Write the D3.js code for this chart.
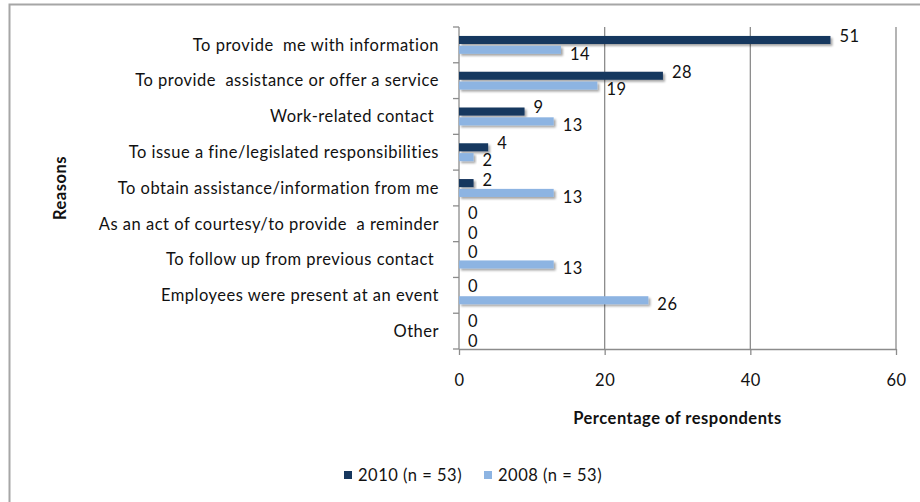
<!DOCTYPE html>
<html>
<head>
<meta charset="utf-8">
<script src="https://cdn.jsdelivr.net/npm/d3@7"></script>
<style>
  html, body { margin: 0; padding: 0; background: #fff; }
  svg { display: block; }
  text { font-family: Lato, "Open Sans", sans-serif; fill: #111; letter-spacing: 0.5px; }
</style>
</head>
<body>
<svg id="chart" width="920" height="502"></svg>
<script>
// Reasons for contact, share of respondents (%)
const categories = [
  "To provide  me with information",
  "To provide  assistance or offer a service",
  "Work-related contact ",
  "To issue a fine/legislated responsibilities",
  "To obtain assistance/information from me",
  "As an act of courtesy/to provide  a reminder",
  "To follow up from previous contact ",
  "Employees were present at an event",
  "Other"
];
const series = ["2010 (n = 53)", "2008 (n = 53)"];
const values2010 = [51, 28, 9, 4, 2, 0, 0, 0, 0];
const values2008 = [14, 19, 13, 2, 13, 0, 13, 26, 0];
const xTicks = [0, 20, 40, 60];
const colors = ["#17375E", "#8DB4E2"];

const svg = d3.select("#chart");
const plot = { left: 459, right: 896, top: 27, bottom: 349 };
const fs = 16.5;

// outer chart frame
svg.append("rect")
  .attr("x", 9.5).attr("y", 4.5)
  .attr("width", 1000).attr("height", 600)
  .attr("fill", "#fff").attr("stroke", "#A6A6A6").attr("stroke-width", 2);

const defs = svg.append("defs");
const f = defs.append("filter").attr("id", "shadow")
  .attr("x", "-10%").attr("y", "-50%").attr("width", "130%").attr("height", "220%");
f.append("feDropShadow")
  .attr("dx", 2).attr("dy", 2).attr("stdDeviation", 1.3)
  .attr("flood-color", "#000").attr("flood-opacity", 0.35);

const x = d3.scaleLinear().domain([0, 60]).range([plot.left, plot.right]);
const y0 = d3.scaleBand().domain(categories)
  .range([plot.top, plot.bottom]).paddingInner(0.5).paddingOuter(0.25);
const y1 = d3.scaleBand().domain(series)
  .range([0, y0.bandwidth()]).paddingInner(0.18);

// vertical gridlines
svg.append("g").selectAll("line")
  .data(xTicks.filter(d => d > 0))
  .join("line")
  .attr("x1", d => x(d)).attr("x2", d => x(d))
  .attr("y1", plot.top).attr("y2", plot.bottom)
  .attr("stroke", "#8C8C8C").attr("stroke-width", 1.3);

// x axis
const xAxis = svg.append("g")
  .attr("transform", `translate(0,${plot.bottom})`)
  .call(d3.axisBottom(x).tickValues(xTicks).tickSize(6).tickPadding(19).tickSizeOuter(0));
xAxis.select(".domain").attr("stroke", "#8C8C8C").attr("stroke-width", 1.3);
xAxis.selectAll(".tick line").attr("stroke", "#8C8C8C").attr("stroke-width", 1.3);
xAxis.selectAll(".tick text").attr("font-size", fs).attr("fill", "#111")
  .attr("font-family", "Lato, sans-serif");

// y axis: category boundaries as ticks
const yAxisG = svg.append("g");
yAxisG.append("line")
  .attr("x1", plot.left).attr("x2", plot.left)
  .attr("y1", plot.top).attr("y2", plot.bottom)
  .attr("stroke", "#8C8C8C").attr("stroke-width", 1.3);
const bounds = d3.range(categories.length + 1).map(i => plot.top + i * y0.step());
yAxisG.selectAll("line.tk").data(bounds).join("line").attr("class", "tk")
  .attr("x1", plot.left - 6).attr("x2", plot.left)
  .attr("y1", d => d).attr("y2", d => d)
  .attr("stroke", "#8C8C8C").attr("stroke-width", 1.3);
yAxisG.selectAll("text").data(categories).join("text")
  .attr("x", 439)
  .attr("y", d => y0(d) + y0.bandwidth() / 2)
  .attr("dy", "0.35em")
  .attr("text-anchor", "end")
  .attr("font-size", fs)
  .attr("xml:space", "preserve")
  .style("white-space", "pre")
  .text(d => d);

// bars
const rows = categories.map((c, i) => ({
  cat: c,
  vals: [
    { s: series[0], v: values2010[i], k: 0 },
    { s: series[1], v: values2008[i], k: 1 }
  ]
}));
const groups = svg.append("g").selectAll("g")
  .data(rows).join("g")
  .attr("transform", d => `translate(0,${y0(d.cat)})`);

groups.selectAll("rect")
  .data(d => d.vals.filter(e => e.v > 0))
  .join("rect")
  .attr("x", x(0))
  .attr("y", d => y1(d.s))
  .attr("width", d => x(d.v) - x(0))
  .attr("height", y1.bandwidth())
  .attr("fill", d => colors[d.k])
  .attr("filter", "url(#shadow)");

// value labels, placed at the bar end and nudged apart where they collide
const labelData = rows.flatMap(r => r.vals.map(v => ({
  ...v,
  x: x(v.v) + 9,
  y: y0(r.cat) + y1(v.s) + y1.bandwidth() / 2 + (v.k === 0 ? -4 : 4)
})));
const labels = svg.append("g").selectAll("text")
  .data(labelData).join("text")
  .attr("x", d => d.x)
  .attr("dy", "0.35em")
  .attr("font-size", fs)
  .text(d => d.v);
labels.each(function (d) { d.w = this.getComputedTextLength(); });
const minGap = 19.5;
for (let it = 0; it < 60; it++) {
  const sorted = labelData.slice().sort((a, b) => a.y - b.y);
  for (let i = 0; i < sorted.length; i++) {
    for (let j = i + 1; j < sorted.length; j++) {
      const a = sorted[i], b = sorted[j];
      const xOverlap = a.x < b.x + b.w && b.x < a.x + a.w;
      const gap = b.y - a.y;
      if (xOverlap && gap < minGap) {
        const push = (minGap - gap) / 2;
        a.y -= push; b.y += push;
      }
    }
  }
}
labels.attr("y", d => d.y);

// axis titles
svg.append("text")
  .attr("x", (plot.left + plot.right) / 2)
  .attr("y", 418).attr("dy", "0.35em")
  .attr("text-anchor", "middle")
  .attr("font-size", fs).attr("font-weight", "bold")
  .text("Percentage of respondents");

svg.append("text")
  .attr("transform", `translate(60,${(plot.top + plot.bottom) / 2}) rotate(-90)`)
  .attr("dy", "0.35em")
  .attr("text-anchor", "middle")
  .attr("font-size", fs).attr("font-weight", "bold")
  .text("Reasons");

// legend
const legend = svg.append("g").attr("transform", "translate(344,475)");
const lx = [0, 140];
series.forEach((s, i) => {
  const g = legend.append("g").attr("transform", `translate(${lx[i]},0)`);
  g.append("rect").attr("x", 0).attr("y", -4).attr("width", 8).attr("height", 8)
    .attr("fill", colors[i]);
  g.append("text").attr("x", 14).attr("y", 0).attr("dy", "0.35em")
    .attr("font-size", fs).text(s);
});
</script>
</body>
</html>
